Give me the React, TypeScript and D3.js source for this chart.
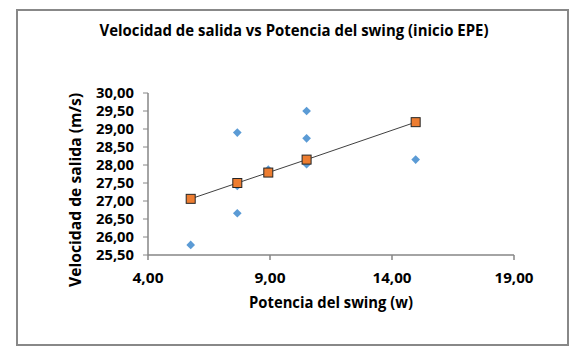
import React from "react";
import * as d3 from "d3";

const title = "Velocidad de salida vs Potencia del swing (inicio EPE)";
const xTitle = "Potencia del swing (w)";
const yTitle = "Velocidad de salida (m/s)";

const xTicks = [4, 9, 14, 19];
const yTicks = [25.5, 26, 26.5, 27, 27.5, 28, 28.5, 29, 29.5, 30];

const obsX = [5.75, 7.66, 7.66, 7.66, 8.93, 10.5, 10.5, 10.5, 14.97];
const obsY = [25.78, 28.9, 26.66, 27.42, 27.87, 29.5, 28.74, 28.02, 28.15];

const predX = [5.75, 7.66, 8.93, 10.5, 14.97];
const predY = [27.06, 27.5, 27.79, 28.15, 29.19];

const fmt = (v: number) => v.toFixed(2).replace(".", ",");

export default function App() {
  const W = 579, H = 356;
  const x = d3.scaleLinear().domain([4, 19]).range([148, 514]);
  const y = d3.scaleLinear().domain([25.5, 30]).range([255, 93]);
  const axisColor = "#868686";
  const font = "'Open Sans', sans-serif";
  const line = d3.line<number>().x((_, i) => x(predX[i])).y((d) => y(d));
  const diamond = d3.symbol().type(d3.symbolDiamond2).size(48)();

  return (
    <svg width={W} height={H} style={{ position: "absolute", left: 0, top: 0 }}>
      <rect x={0} y={0} width={W} height={H} fill="#fff" />
      <rect x={17} y={10} width={551} height={335} fill="#fff" stroke="#888" strokeWidth={2} />
      <text x={294} y={36} textAnchor="middle" fontFamily={font} fontWeight={700} fontSize={15.5}
        textLength={389} lengthAdjust="spacingAndGlyphs" fill="#000">{title}</text>

      {/* axes */}
      <line x1={x(4)} x2={x(19)} y1={y(25.5)} y2={y(25.5)} stroke={axisColor} strokeWidth={1.5} />
      <line x1={x(4)} x2={x(4)} y1={y(25.5)} y2={y(30)} stroke={axisColor} strokeWidth={1.5} />
      {yTicks.map((t) => (
        <g key={"y" + t}>
          <line x1={x(4) - 5} x2={x(4)} y1={y(t)} y2={y(t)} stroke={axisColor} strokeWidth={1} />
          <text x={134} y={y(t) + 5} textAnchor="end" fontFamily={font} fontWeight={700} fontSize={14.5}
            textLength={38} lengthAdjust="spacingAndGlyphs" fill="#000">{fmt(t)}</text>
        </g>
      ))}
      {xTicks.map((t) => (
        <g key={"x" + t}>
          <line x1={x(t)} x2={x(t)} y1={y(25.5)} y2={y(25.5) + 5} stroke={axisColor} strokeWidth={1.5} />
          <text x={x(t)} y={283} textAnchor="middle" fontFamily={font} fontWeight={700} fontSize={14.5}
            textLength={t >= 10 ? 39 : 31} lengthAdjust="spacingAndGlyphs" fill="#000">{fmt(t)}</text>
        </g>
      ))}
      <text x={331} y={308} textAnchor="middle" fontFamily={font} fontWeight={700} fontSize={15.5}
        textLength={164} lengthAdjust="spacingAndGlyphs" fill="#000">{xTitle}</text>
      <text transform="translate(81,190) rotate(-90)" textAnchor="middle" fontFamily={font} fontWeight={700}
        fontSize={15.5} textLength={194} lengthAdjust="spacingAndGlyphs" fill="#000">{yTitle}</text>

      {/* observed */}
      {obsX.map((v, i) => (
        <path key={"o" + i} d={diamond} transform={`translate(${x(v)},${y(obsY[i])})`} fill="#5B9BD5" />
      ))}
      {/* predicted */}
      <path d={line(predY) || ""} fill="none" stroke="#404040" strokeWidth={1} />
      {predX.map((v, i) => (
        <rect key={"p" + i} x={x(v) - 4.5} y={y(predY[i]) - 4.5} width={9} height={9}
          fill="#ED7D31" stroke="#262626" strokeWidth={1} />
      ))}
    </svg>
  );
}
